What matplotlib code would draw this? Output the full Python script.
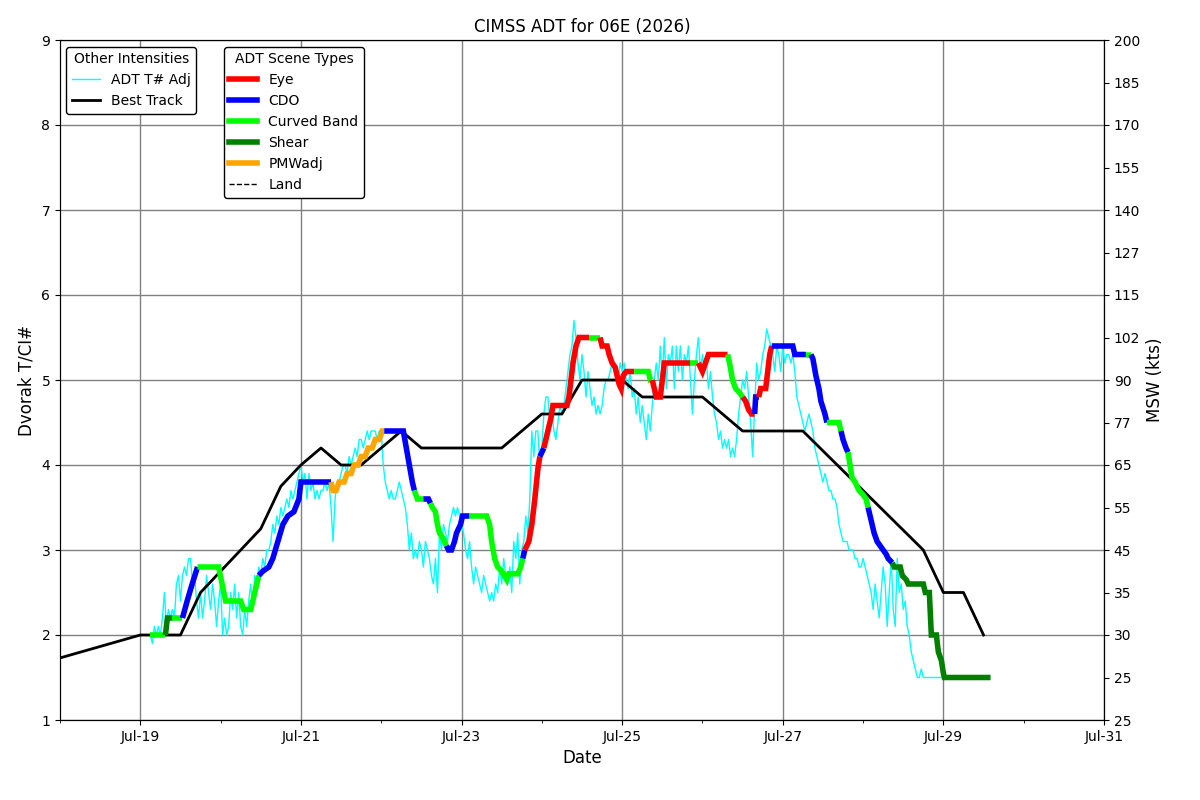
import matplotlib
matplotlib.use("Agg")
import matplotlib.pyplot as plt
import matplotlib.dates as mdates
from matplotlib.lines import Line2D
from datetime import datetime, timedelta

# ---------------- data ----------------
base_time = datetime(2026, 7, 18, 0, 0)

# Best track (hours since base, T#)
bt_hours = [0, 24, 36, 42, 60, 66, 72, 78, 84, 90, 102, 108, 132, 144, 150,
            156, 168, 174, 192, 204, 222, 258, 264, 270, 276]
bt_values = [1.73, 2.0, 2.0, 2.5, 3.25, 3.75, 4.0, 4.2, 4.0, 4.0, 4.4, 4.2, 4.2,
             4.6, 4.6, 5.0, 5.0, 4.8, 4.8, 4.4, 4.4, 3.0, 2.5, 2.5, 2.0]

# ADT raw T# (adjusted), uniformly sampled
adt_start_hour = 27.0
adt_step_hours = 0.6
adt_raw = [
    2.0, 1.9, 2.1, 2.0, 2.1, 2.0, 2.2,
    2.5, 2.1, 2.3, 2.2, 2.3, 2.2, 2.6, 2.7, 2.4, 2.7, 2.8, 2.7, 2.9, 2.9,
    2.6, 2.7, 2.4, 2.2, 2.5, 2.2, 2.4, 2.7, 2.5, 2.3, 2.6, 2.4, 2.1, 2.4,
    2.6, 2.0, 2.2, 2.0, 2.1, 2.5, 2.3, 2.6, 2.2, 2.5, 2.1, 2.0, 2.3, 2.1,
    2.4, 2.6, 2.3, 2.7, 2.6, 2.8, 2.7, 2.9, 2.8, 3.0, 3.0, 3.1, 3.3, 3.2,
    3.4, 3.3, 3.5, 3.4, 3.5, 3.6, 3.5, 3.7, 3.6, 3.7, 3.8, 3.9, 4.0, 3.8,
    3.9, 3.6, 3.9, 3.7, 3.8, 3.6, 3.7, 3.6, 3.7, 3.7, 3.8, 3.7, 3.8, 3.5,
    3.1, 3.6, 3.8, 3.8, 3.9, 4.0, 4.0, 3.9, 4.1, 4.0, 4.1, 4.2, 4.1, 4.3,
    4.3, 4.2, 4.3, 4.4, 4.3, 4.4, 4.4, 4.4, 4.3, 4.4, 4.4,
    4.0, 3.8, 3.7, 3.6, 3.7, 3.6, 3.6, 3.7, 3.8, 3.7, 3.6, 3.5, 3.3, 3.0,
    3.2, 2.9, 3.0, 2.9, 3.1, 3.0, 2.8, 3.1, 3.0, 2.9, 2.7, 2.6, 2.9, 2.5,
    3.2, 3.0, 3.3, 3.2, 3.1, 3.3, 3.4, 3.5, 3.4, 3.5, 3.4, 3.3, 3.2, 3.0,
    2.9, 3.1, 2.8, 2.6, 2.8, 2.7, 2.6, 2.5, 2.7, 2.6, 2.5, 2.4, 2.5, 2.4,
    2.6, 2.5, 2.8, 2.6, 2.9, 2.7, 2.6, 2.8, 2.5, 3.1, 2.9, 3.2, 2.6, 3.0,
    3.1, 3.4, 3.2, 3.6, 4.4, 4.1, 4.4, 4.4, 4.0, 4.2, 4.6, 4.8, 4.8, 4.5,
    4.6, 4.4, 4.3, 4.5, 4.7, 4.6, 4.7, 4.9, 5.1, 5.3, 5.4, 5.7, 5.5, 5.2,
    5.0, 5.3, 5.1, 4.8, 5.1, 4.9, 4.7, 4.8, 4.6, 4.7, 4.6, 4.7, 4.9, 5.0,
    5.0, 5.1, 5.2, 5.1, 5.1, 5.0, 5.2, 5.1, 5.2, 5.0, 4.9, 5.1, 4.8, 4.9,
    4.6, 4.8, 4.5, 4.7, 4.5, 4.3, 4.6, 4.4, 4.7, 5.0, 5.2, 5.0, 5.4, 5.0,
    5.5, 4.9, 5.3, 5.2, 5.4, 4.9, 5.4, 5.1, 5.4, 5.0, 5.3, 5.2, 5.4, 5.0,
    4.6, 5.0, 5.3, 5.5, 5.1, 5.3, 5.1, 5.2, 4.9, 5.1, 4.8, 4.6, 4.5, 4.3,
    4.4, 4.2, 4.3, 4.2, 4.3, 4.1, 4.2, 4.1, 4.3, 4.6, 4.8, 5.0, 4.9, 5.1,
    4.8, 4.5, 4.1, 4.7, 5.2, 5.0, 5.1, 5.3, 5.4, 5.6, 5.5, 5.4, 5.3, 5.1,
    5.4, 5.3, 5.1, 5.4, 5.2, 5.3, 5.3, 5.2, 5.3, 5.1, 4.8, 4.7, 4.6, 4.5,
    4.4, 4.5, 4.6, 4.5, 4.4, 4.2, 4.1, 4.0, 3.9, 3.8, 3.9, 3.8, 3.7, 3.7,
    3.6, 3.6, 3.5, 3.3, 3.2, 3.1, 3.1, 3.1, 3.0, 3.0, 3.0, 2.9, 2.9, 2.8,
    2.8, 2.9, 2.8, 2.7, 2.6, 2.5, 2.3, 2.6, 2.4, 2.2, 2.5, 2.8, 2.6, 2.1,
    2.5, 2.9, 2.3, 2.1, 2.9, 2.5, 2.6, 2.3, 2.4, 2.1, 2.0, 1.8, 1.7, 1.6,
    1.5, 1.5, 1.6, 1.5, 1.5, 1.5, 1.5, 1.5, 1.5, 1.5, 1.5, 1.5, 1.5, 1.5,
    1.5,
]

# ADT final CI# with scene type of the segment ending at each point
# E=Eye, C=CDO, B=Curved Band, S=Shear, P=PMWadj
ci_hours = [
    27.0, 31.5, 32.1, 33.6, 33.9, 36.6, 38.0, 39.5, 41.1, 47.4, 49.5, 54.0,
    54.9, 57.0, 59.4, 60.6, 62.4, 63.6, 65.1, 66.6, 68.1, 69.9, 71.4, 72.0,
    81.0, 81.6, 82.5, 83.4, 84.9, 85.8, 87.0, 87.9, 89.1, 90.0, 91.2, 92.1,
    93.3, 94.2, 95.4, 96.3, 96.9, 102.6, 103.5, 104.4, 105.3, 105.9, 106.8,
    108.6, 110.1, 110.7, 111.3, 112.2, 112.8, 113.4, 114.3, 115.5, 116.1,
    117.0, 117.9, 118.5, 119.7, 120.3, 122.4, 127.5, 128.4, 129.0, 129.9,
    130.8, 132.0, 133.5, 134.1, 136.8, 137.7, 138.3, 138.9, 140.1, 141.0,
    141.9, 142.8, 143.4, 144.6, 145.5, 146.1, 146.7, 147.3, 151.5, 152.1,
    152.7, 153.3, 154.2, 155.1, 158.1, 161.4, 162.0, 163.5, 164.1, 165.0,
    165.9, 166.5, 167.1, 167.7, 168.3, 169.2, 171.6, 175.8, 176.4, 177.0,
    177.6, 178.2, 179.4, 180.0, 180.6, 188.4, 190.8, 191.4, 192.0, 192.9, 193.8,
    199.5, 200.1, 201.0, 201.9, 203.1, 204.0, 204.9, 205.8, 206.7, 207.6,
    207.9, 208.8, 209.4, 210.9, 211.5, 212.1, 212.7, 219.0, 219.6, 222.9,
    224.4, 225.0, 225.9, 226.8, 227.4, 228.6, 229.2, 232.8, 233.4, 234.0,
    234.9, 235.5, 236.1, 236.7, 237.6, 238.8, 240.0, 240.9, 241.5, 242.4,
    243.3, 244.2, 245.1, 246.0, 246.9, 247.5, 248.7, 249.3, 251.1, 251.7,
    252.9, 253.5, 258.0, 258.6, 259.8, 260.4, 261.9, 262.5, 263.4, 264.0,
    264.3, 278.1,
]
ci_values = [
    2.0, 2.0, 2.2, 2.2, 2.2, 2.2, 2.4, 2.6, 2.8, 2.8, 2.4, 2.4,
    2.3, 2.3, 2.7, 2.75, 2.8, 2.9, 3.1, 3.3, 3.4, 3.45, 3.6, 3.8,
    3.8, 3.7, 3.7, 3.8, 3.8, 3.9, 3.9, 4.0, 4.0, 4.1, 4.1, 4.2,
    4.2, 4.3, 4.3, 4.4, 4.4, 4.4, 4.2, 4.0, 3.8, 3.7, 3.6,
    3.6, 3.6, 3.55, 3.5, 3.45, 3.3, 3.2, 3.15, 3.05, 3.0,
    3.0, 3.1, 3.2, 3.3, 3.4, 3.4, 3.4, 3.3, 3.1, 2.9,
    2.8, 2.75, 2.65, 2.72, 2.72, 2.8, 2.9, 3.0, 3.1, 3.3,
    3.6, 3.95, 4.1, 4.2, 4.35, 4.45, 4.55, 4.7, 4.7, 4.8,
    5.0, 5.2, 5.4, 5.5, 5.5, 5.5, 5.4, 5.4, 5.3, 5.2,
    5.15, 5.05, 4.95, 4.9, 5.05, 5.1, 5.1, 5.1, 5.0, 5.0,
    4.9, 4.8, 4.8, 5.0, 5.2, 5.2, 5.2, 5.15, 5.1, 5.2, 5.3,
    5.3, 5.2, 5.0, 4.9, 4.85, 4.8, 4.75, 4.65, 4.6, 4.6,
    4.8, 4.8, 4.9, 4.9, 5.1, 5.3, 5.4, 5.4, 5.3, 5.3,
    5.3, 5.25, 5.05, 4.9, 4.75, 4.6, 4.5, 4.5, 4.4, 4.3,
    4.2, 4.15, 4.0, 3.85, 3.8, 3.7, 3.65, 3.6, 3.5, 3.35,
    3.2, 3.1, 3.05, 3.0, 2.95, 2.9, 2.85, 2.8, 2.8, 2.7,
    2.65, 2.6, 2.6, 2.5, 2.5, 2.0, 2.0, 1.8, 1.7, 1.55,
    1.5, 1.5,
]
ci_scene = list(
    "BBSSBBCCCBBB"
    "BBBCCCCCCCCC"
    "CPPPPPPPPPPP"
    "PPPPPCCCCCB"
    "BCCBBBBBBC"
    "CCCCCCBBBB"
    "BBBBBBBCEE"
    "EEECEEEEEE"
    "EEEEEBEEEE"
    "EEEEEEEBBB"
    "EEEEEEBEEEE"
    "EBBBBBEEEE"
    "CCEEEEECCC"
    "BCCCCCCBBC"
    "CCBBBBBBBC"
    "CCCCCCCSSS"
    "SSSSSSSSSS"
    "SS"
)

scene_names = ["Eye", "CDO", "Curved Band", "Shear", "PMWadj"]
scene_codes = ["E", "C", "B", "S", "P"]
scene_colors = ["red", "blue", "lime", "green", "orange"]

msw_ticks = [1.0, 1.5, 2.0, 2.5, 3.0, 3.5, 4.0, 4.5, 5.0, 5.5, 6.0, 6.5, 7.0,
             7.5, 8.0, 8.5, 9.0]
msw_labels = ["25", "25", "30", "35", "45", "55", "65", "77", "90", "102",
              "115", "127", "140", "155", "170", "185", "200"]

# ---------------- plot ----------------
def to_dt(h):
    return base_time + timedelta(hours=float(h))

fig = plt.figure(figsize=(12, 8), dpi=100)
ax = fig.add_axes([0.05, 0.1, 0.87, 0.85])

adt_times = [to_dt(adt_start_hour + i * adt_step_hours) for i in range(len(adt_raw))]
ax.plot(adt_times, adt_raw, color="cyan", lw=1.0, zorder=2)

bt_times = [to_dt(h) for h in bt_hours]
ax.plot(bt_times, bt_values, color="black", lw=2.0, zorder=3)

ci_times = [to_dt(h) for h in ci_hours]
code_color = dict(zip(scene_codes, scene_colors))
n = min(len(ci_times), len(ci_values), len(ci_scene))
i = 1
while i < n:
    sc = ci_scene[i]
    j = i
    while j + 1 < n and ci_scene[j + 1] == sc:
        j += 1
    ax.plot(ci_times[i - 1:j + 1], ci_values[i - 1:j + 1], color=code_color[sc],
            lw=4.0, solid_capstyle="butt", solid_joinstyle="miter", zorder=4)
    i = j + 1

ax.set_xlim(base_time, base_time + timedelta(days=13))
ax.set_ylim(1, 9)
ax.xaxis.set_major_locator(mdates.DayLocator(bymonthday=[19, 21, 23, 25, 27, 29, 31]))
ax.xaxis.set_minor_locator(mdates.DayLocator())
ax.xaxis.set_major_formatter(mdates.DateFormatter("%b-%d"))
ax.set_yticks(range(1, 10))
ax.grid(True, which="major", color="grey", lw=1.0)
ax.set_axisbelow(True)
ax.tick_params(labelsize=10)
ax.set_xlabel("Date", fontsize=12)
ax.set_ylabel("Dvorak T/CI#", fontsize=12)
ax.set_title("CIMSS ADT for 06E (2026)", fontsize=12)

ax2 = ax.twinx()
ax2.set_ylim(1, 9)
ax2.set_yticks(msw_ticks)
ax2.set_yticklabels(msw_labels)
ax2.tick_params(labelsize=10)
ax2.set_ylabel("MSW (kts)", fontsize=12)

h1 = [Line2D([], [], color="cyan", lw=1.0), Line2D([], [], color="black", lw=2.0)]
leg1 = ax2.legend(h1, ["ADT T# Adj", "Best Track"], title="Other Intensities",
                  loc="upper left", bbox_to_anchor=(0.006, 0.99), borderaxespad=0,
                  fontsize=10, title_fontsize=10, framealpha=1, edgecolor="black")
ax2.add_artist(leg1)
h2 = [Line2D([], [], color=c, lw=4.0) for c in scene_colors]
h2.append(Line2D([], [], color="black", lw=1.0, ls="--"))
ax2.legend(h2, scene_names + ["Land"], title="ADT Scene Types",
           loc="upper left", bbox_to_anchor=(0.157, 0.99), borderaxespad=0,
           fontsize=10, title_fontsize=10, framealpha=1, edgecolor="black")

fig.savefig("out.png", dpi=100)
